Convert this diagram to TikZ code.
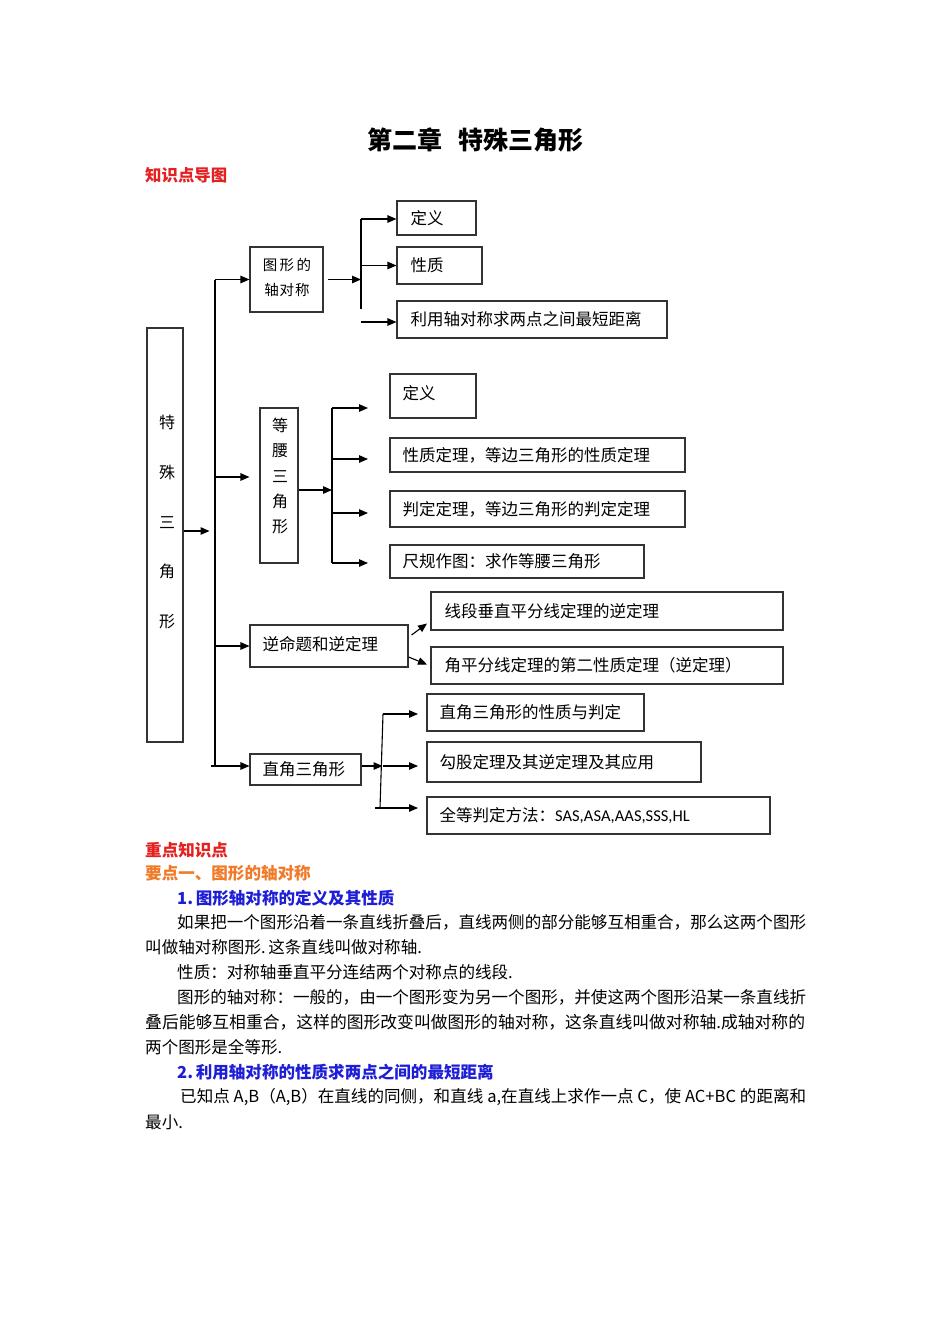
\documentclass[tikz,border=0pt]{standalone}
\usepackage{fontspec}
\setmainfont{Noto Sans CJK SC}
\newfontfamily\latinf{Carlito}
\usetikzlibrary{arrows.meta,fit}
\XeTeXlinebreaklocale "zh"
\XeTeXlinebreakskip=0pt plus 3pt
\definecolor{hred}{RGB}{228,32,32}
\definecolor{horange}{RGB}{240,122,40}
\definecolor{hblue}{RGB}{30,30,215}
\newcommand\fs{\fontsize{16.5}{20}\selectfont}
\newcommand\bodyfs{\fontsize{16.55}{20}\selectfont}
\begin{document}
\begin{tikzpicture}[x=1pt,y=-1pt,
  box/.style={draw=black!80, line width=1.1pt, inner sep=0pt, rectangle},
  lbl/.style={anchor=west, inner sep=0pt, font=\fs},
  txt/.style={anchor=west, inner sep=0pt, font=\bodyfs},
  ln/.style={line width=1.1pt, black},
  arr/.style={ln, -{Triangle[length=9pt,width=7.5pt]}},
]
\fill[white] (0,0) rectangle (950,1344);
\useasboundingbox (0,0) rectangle (950,1344);

% title and heading
\node[inner sep=0pt, font=\fontsize{25}{29}\selectfont\bfseries] (title) at (475,140) {第二章\hspace{16pt}特殊三角形};
\node[txt, font=\fontsize{16.4}{20}\selectfont\bfseries, text=hred] (h0) at (145,175) {知识点导图};

% boxes
\node[box, fit={(147,328)(183,742)}] (main) {};
\node[box, fit={(250,247)(323,312)}] (axis) {};
\node[box, fit={(397,201)(476,235)}] (d1) {};
\node[box, fit={(397,247)(482,284)}] (p1) {};
\node[box, fit={(397,301)(667,338)}] (s1) {};
\node[box, fit={(260,408)(298,563)}] (iso) {};
\node[box, fit={(390,374)(476,418)}] (d2) {};
\node[box, fit={(390,438)(685,472)}] (p2) {};
\node[box, fit={(390,491)(685,527)}] (j2) {};
\node[box, fit={(390,545)(644,578)}] (c2) {};
\node[box, fit={(250,625)(408,667)}] (inv) {};
\node[box, fit={(431,592)(783,630)}] (i1) {};
\node[box, fit={(431,647)(783,684)}] (i2) {};
\node[box, fit={(250,754)(361,785)}] (rt) {};
\node[box, fit={(427,694)(644,731)}] (r1) {};
\node[box, fit={(427,742)(701,782)}] (r2) {};
\node[box, fit={(427,797)(770,834)}] (r3) {};

% box texts
\node[inner sep=0pt, align=center, font=\fontsize{16}{49.8}\selectfont] (mainT) at (167,522) {特\\殊\\三\\角\\形};
\node[inner sep=0pt, align=center, font=\fontsize{14.5}{25}\selectfont] (axisT) at (287,277.5) {图\hspace{2.5pt}形\hspace{2.5pt}的\\轴\hspace{1pt}对\hspace{1pt}称};
\node[inner sep=0pt, align=center, font=\fontsize{16}{25.2}\selectfont] (isoT) at (280,476) {等\\腰\\三\\角\\形};
\node[lbl] at ([xshift=14pt]d1.west) {定义};
\node[lbl] at ([xshift=14pt]p1.west) {性质};
\node[lbl] at ([xshift=14pt]s1.west) {利用轴对称求两点之间最短距离};
\node[lbl] at ([xshift=13pt,yshift=3pt]d2.west) {定义};
\node[lbl] at ([xshift=13pt]p2.west) {性质定理，等边三角形的性质定理};
\node[lbl] at ([xshift=13pt]j2.west) {判定定理，等边三角形的判定定理};
\node[lbl] at ([xshift=13pt]c2.west) {尺规作图：求作等腰三角形};
\node[lbl] at ([xshift=13pt,yshift=2pt]inv.west) {逆命题和逆定理};
\node[lbl] at ([xshift=14pt]i1.west) {线段垂直平分线定理的逆定理};
\node[lbl] at ([xshift=14pt]i2.west) {角平分线定理的第二性质定理（逆定理）};
\node[lbl] at ([xshift=13pt]rt.west) {直角三角形};
\node[lbl] at ([xshift=13pt]r1.west) {直角三角形的性质与判定};
\node[lbl] at ([xshift=13pt]r2.west) {勾股定理及其逆定理及其应用};
\node[lbl] at ([xshift=13pt]r3.west) {全等判定方法：{\latinf SAS,ASA,AAS,SSS,HL}};

% trunk
\coordinate (trTop) at (215,279.5);
\coordinate (trBot) at (215,766);
\coordinate (trStart) at (211,766);
\draw[ln] (trTop) -- (trBot);
\draw[arr] ([yshift=4pt]main.east) -- ++(26,0);
\draw[arr] (trTop) -- (axis.west);
\draw[arr] (trTop |- 0,477) -- ([xshift=-10pt,yshift=8.5pt]iso.west);
\draw[arr] (trTop |- inv.west) -- (inv.west);
\draw[arr] (trStart) -- (trStart -| rt.west);

% axis symmetry branch
\coordinate (a1) at (361,219);
\coordinate (a2) at (361,309);
\draw[arr] ([xshift=4pt]axis.east) -- (axis.east -| a1);
\draw[ln] (a1) -- (a2);
\draw[arr] (a1) -- (a1 -| d1.west);
\draw[arr] (a1 |- p1.west) -- (p1.west);
\draw[arr] (a1 |- 0,322) -- (s1.west |- 0,322);

% isosceles branch
\coordinate (b1) at (332,408);
\coordinate (b2) at (332,563);
\draw[arr] ([yshift=-4.5pt]iso.east) -- ([yshift=-4.5pt]iso.east -| b1);
\draw[ln] (b1) -- (b2);
\coordinate (e1) at (368,408);
\coordinate (e2) at (368,459);
\coordinate (e3) at (368,513);
\coordinate (e4) at (368,563);
\draw[arr] (b1) -- (e1);
\draw[arr] (b1 |- e2) -- (e2);
\draw[arr] (b1 |- e3) -- (e3);
\draw[arr] (b2) -- (e4);

% converse branch
\coordinate (f1) at (427,623.5);
\coordinate (f2) at (427,664.5);
\draw[arr] ([xshift=3pt,yshift=11pt]inv.east) -- (f1);
\draw[arr] ([yshift=-11pt]inv.east) -- (f2);

% right triangle branch
\coordinate (c1) at (383,714);
\coordinate (c3) at (380,808);
\coordinate (g1) at (418,714);
\coordinate (g2) at (418,766);
\coordinate (g3) at (418,808);
\draw[arr] ([yshift=3.5pt]rt.east) -- ++(21,0);
\draw[ln] (c1) -- (c3);
\draw[arr] (c1) -- (g1);
\draw[arr] (383,766) -- (g2);
\draw[arr] ([xshift=-5pt]c3) -- (g3);

% text section
\node[txt, font=\bodyfs\bfseries, text=hred] (h1) at (145,850) {重点知识点};
\node[txt, font=\bodyfs\bfseries, text=horange] (h2) at (145,873) {要点一、图形的轴对称};
\node[txt, font=\bodyfs\bfseries, text=hblue] (h3) at (177,898) {1.\,图形轴对称的定义及其性质};
\node[txt] (l1) at (177,922) {\makebox[629pt][s]{如果把一个图形沿着一条直线折叠后，直线两侧的部分能够互相重合，那么这两个图形}};
\node[txt] (l2) at (145,947) {叫做轴对称图形.\,这条直线叫做对称轴.};
\node[txt] (l3) at (177,972) {性质：对称轴垂直平分连结两个对称点的线段.};
\node[txt] (l4) at (177,997) {\makebox[629pt][s]{图形的轴对称：一般的，由一个图形变为另一个图形，并使这两个图形沿某一条直线折}};
\node[txt, font=\fontsize{16.8}{20}\selectfont] (l5) at (145,1022) {\makebox[661pt][s]{叠后能够互相重合，这样的图形改变叫做图形的轴对称，这条直线叫做对称轴.成轴对称的}};
\node[txt] (l6) at (145,1047) {两个图形是全等形.};
\node[txt, font=\bodyfs\bfseries, text=hblue] (h4) at (177,1072) {2.\,利用轴对称的性质求两点之间的最短距离};
\node[txt] (l7) at (180,1097) {\makebox[626pt][s]{已知点 A,B（A,B）在直线的同侧，和直线 a,在直线上求作一点 C，使 AC+BC 的距离和}};
\node[txt] (l8) at (145,1122) {最小.};
\end{tikzpicture}
\end{document}
